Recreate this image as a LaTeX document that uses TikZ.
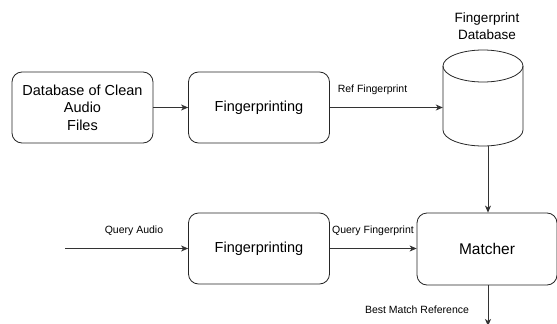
\documentclass[tikz,border=0pt]{standalone}
\usepackage{fontspec}
\setmainfont{Liberation Sans}
\usetikzlibrary{arrows.meta}
\begin{document}
\begin{tikzpicture}[x=1pt,y=-1pt,
  box/.style={draw=black!85, rounded corners=10pt, line width=0.8pt, minimum width=141pt, minimum height=71pt, align=center, inner sep=0pt, font=\fontsize{14.5}{17.5}\selectfont},
  lbl/.style={inner sep=0pt, font=\fontsize{10.5}{12}\selectfont},
  conn/.style={draw=black!80, line width=0.8pt, -{Stealth[length=7pt,width=6pt,inset=2pt]}}]
\useasboundingbox (0,0) rectangle (557,324);
\node[box] (src) at (82.5,107.5) {Database of Clean\\Audio\\Files};
\node[box] (fp1) at (259,107.5) {Fingerprinting};
\node[box] (fp2) at (259,248.5) {Fingerprinting};
\node[box, minimum width=140pt, minimum height=72pt, font=\fontsize{15.5}{18}\selectfont] (match) at (487,249) {Matcher};
% cylinder
\node[minimum width=80pt, minimum height=96pt, inner sep=0pt] (db) at (483,98) {};
\draw[draw=black!85, line width=0.8pt] (443,66) -- (443,130) arc[start angle=180, end angle=0, x radius=40, y radius=16] -- (523,66);
\draw[draw=black!85, line width=0.8pt] (483,66) ellipse[x radius=40, y radius=16];
\node[align=center, inner sep=0pt, font=\fontsize{13.5}{17}\selectfont] (dblbl) at (487,26) {Fingerprint\\Database};
\coordinate (qin) at (65,248.5);
\coordinate (dbout) at (488,145.5);
\coordinate (out) at (488,326);
% connectors
\draw[conn] (src) -- (fp1);
\draw[conn] (fp1.east) -- (fp1.east -| db.west);
\draw[conn] (dbout) -- (dbout |- match.north);
\draw[conn] (qin) -- (fp2.west);
\draw[conn] (fp2.east) -- (fp2.east -| match.west);
\draw[conn] (dbout |- match.south) -- (out);
% labels
\node[lbl] (lref) at (372.5,90) {Ref Fingerprint};
\node[lbl] (lqa) at (134,231) {Query Audio};
\node[lbl] (lqf) at (373,231) {Query Fingerprint};
\node[lbl] (lbm) at (417,310) {Best Match Reference};
\end{tikzpicture}
\end{document}
